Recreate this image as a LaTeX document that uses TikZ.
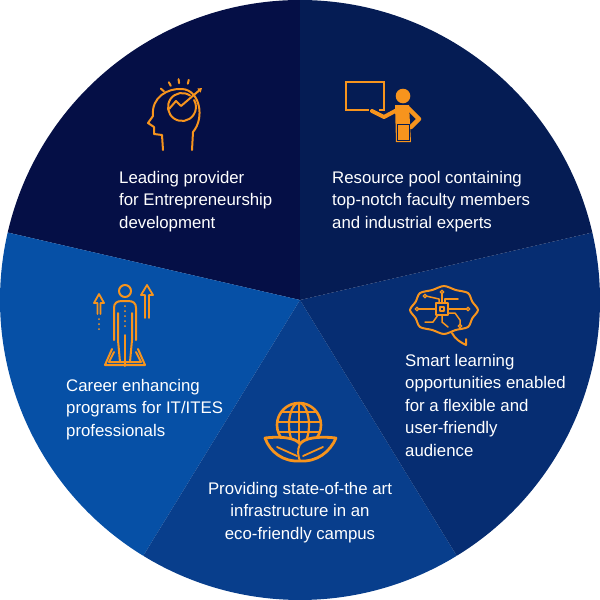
\documentclass[tikz,border=0pt]{standalone}
\usepackage{fontspec}
\setmainfont{Liberation Sans}
\usetikzlibrary{arrows.meta}
\definecolor{seg_tl}{RGB}{5, 15, 70}
\definecolor{seg_tr}{RGB}{5, 28, 84}
\definecolor{seg_r}{RGB}{6, 45, 114}
\definecolor{seg_b}{RGB}{8, 62, 140}
\definecolor{seg_l}{RGB}{6, 80, 166}
\definecolor{ic_orange}{RGB}{247, 148, 29}
\tikzstyle{txt}=[text=white,inner sep=0pt,font=\fontsize{16.8}{22.5}\selectfont]
\tikzstyle{ic}=[draw=ic_orange,line width=2pt,line join=round,line cap=round]
\tikzstyle{dot}=[fill=ic_orange,draw=none]

\begin{document}
\begin{tikzpicture}[x=1pt,y=-1pt]
        \useasboundingbox (0,0) rectangle (600,600);
        \coordinate (c) at (300,300);
        % slices
        \fill[seg_tl] (c) -- +(-90:300) arc[start angle=-90,end angle=-167,radius=300] -- cycle;
        \fill[seg_l] (c) -- +(-167:300) arc[start angle=-167,end angle=-238.5,radius=300] -- cycle;
        \fill[seg_b] (c) -- +(-238.5:300) arc[start angle=-238.5,end angle=-301.5,radius=300] -- cycle;
        \fill[seg_r] (c) -- +(-301.5:300) arc[start angle=-301.5,end angle=-373,radius=300] -- cycle;
        \fill[seg_tr] (c) -- +(-373:300) arc[start angle=-373,end angle=-450,radius=300] -- cycle;
        % texts (base = last line)
        \node[txt,anchor=base west,align=left] (lead) at (119,228) {Leading provider\\for Entrepreneurship\\development};
        \node[txt,anchor=base west,align=left] (pool) at (332,228) {Resource pool containing\\top-notch faculty members\\and industrial experts};
        \node[txt,anchor=base west,align=left] (smart) at (405,456) {Smart learning\\opportunities enabled\\for a flexible and\\user-friendly\\audience};
        \node[txt,anchor=base west,align=left] (career) at (66,436) {Career enhancing\\programs for IT/ITES\\professionals};
        \node[txt,anchor=base,align=center] (infra) at (300,539) {Providing state-of-the art\\infrastructure in an\\eco-friendly campus};
        % head icon
        \coordinate (gauge) at (182,107);
        \draw[ic] (163,150) -- (162,135) -- (154,134) -- (154,127) -- (148,123) -- (153,116)
          .. controls (151,97) and (168,88) .. (182,89)
          .. controls (200,90) and (205,118) .. (193,132) -- (192,150);
        \draw[ic] (gauge) ++(-55:14) arc[start angle=-55,end angle=-390,radius=14];
        \draw[ic,-{Triangle[length=4pt,width=5pt]}] (169,109) -- (176,101) -- (181,106) -- (202,88);
        \foreach \a in {76,97,118,139}
          \draw[ic] (gauge) ++(-\a:24) -- ++(-\a:4);
        % teacher icon
        \draw[ic,line width=2.7pt,line cap=butt,line join=miter] (369,110) -- (346,110) -- (346,82) -- (384,82) -- (384,110) -- (379,110);
        \fill[dot] (403,96) circle[radius=7.3];
        \fill[dot] (395,105) -- (409,105) -- (411,142) -- (396,142) -- cycle;
        \draw[ic,line width=4.5pt] (408,108) -- (419,119) -- (411,127);
        \draw[ic,line width=4pt] (397,110) -- (384,117) -- (372,111);
        \draw[seg_tr,line width=1pt] (397,124) rectangle (409,140);
        % brain icon
        \draw[ic] plot[smooth cycle] coordinates {(478,310) (472.3,301.7) (468,293) (455.7,290) (444,286) (432.3,290) (420,293) (415.7,301.7)
          (410,310) (415.7,318.3) (420,327) (432.3,330) (444,334) (455.7,330) (468,327) (472.3,318.3)};
        \draw[ic] (452,333) .. controls (455,339) and (460,342) .. (466,345) -- (466,339);
        \draw[ic,line width=1.6pt] (436,303) rectangle (448,315);
        \draw[ic,line width=1.3pt] (440,307) rectangle (444,311);
        \draw[ic,line width=1.5pt] (436,309) -- (418,309);
        \draw[ic,line width=1.5pt] (439,303) -- (439,299) -- (426,296);
        \draw[ic,line width=1.5pt] (442,303) -- (442,293);
        \draw[ic,line width=1.5pt] (445,303) -- (445,299) -- (458,299);
        \draw[ic,line width=1.5pt] (448,309) -- (467,309);
        \draw[ic,line width=1.5pt] (448,313) -- (455,313) -- (460,320) -- (460,325);
        \draw[ic,line width=1.5pt] (442,315) -- (442,322) -- (448,327);
        \draw[ic,line width=1.5pt] (438,315) -- (433,322) -- (425,322);
        \foreach \p in {(417,309),(425,296),(442,292),(468,309),(460,326)}
          \draw[ic,line width=1.3pt] \p circle[radius=1.8];
        % career icon
        \draw[ic] (125,291) circle[radius=6];
        \draw[ic] (114,340) -- (114,308) .. controls (114,303) and (117,301) .. (122,301) -- (128,301)
          .. controls (133,301) and (136,303) .. (136,308) -- (136,340);
        \draw[ic] (118,313) -- (118,340) -- (120,362);
        \draw[ic] (132,313) -- (132,340) -- (130,362);
        \draw[ic,dash pattern=on 0pt off 5pt] (125,306) -- (125,330);
        \draw[ic] (125,335) -- (125,366);
        \draw[ic] (112,349) -- (105,365) -- (145,365) -- (138,349);
        \draw[ic] (114,352) -- (109,362) -- (141,362) -- (136,352);
        \draw[ic,line width=1.8pt] (97.5,314) -- (97.5,303) -- (94,303) -- (99,294) -- (104,303) -- (100.5,303) -- (100.5,314);
        \draw[ic,dash pattern=on 0pt off 5pt] (99,319) -- (99,331);
        \draw[ic,line width=1.8pt] (145,318) -- (145,295) -- (141,295) -- (147,285) -- (153,295) -- (149,295) -- (149,318);
        % globe icon
        \draw[ic,line width=2.6pt] (299,425) circle[radius=22];
        \begin{scope}
          \clip (299,425) circle[radius=22];
          \draw[ic,line width=2.2pt] (299,400) -- (299,450);
          \draw[ic,line width=2.2pt] (299,425) ellipse[x radius=10,y radius=22];
          \foreach \y in {412,422,432}
            \draw[ic,line width=2.2pt] (270,\y) -- (330,\y);
        \end{scope}
        \filldraw[ic,fill=seg_b,line width=2.8pt] (300,461) .. controls (283,462) and (270,452) .. (265,438)
          .. controls (282,436) and (296,438) .. (300,444)
          .. controls (304,438) and (318,436) .. (336,438)
          .. controls (330,452) and (317,462) .. (300,461) -- cycle;
        \draw[ic,line width=2pt] (300,444) .. controls (297,450) and (298,456) .. (300,461);
        \draw[ic,line width=1.8pt] (277,447) -- (297,456);
        \draw[ic,line width=1.8pt] (323,447) -- (303,456);
    \end{tikzpicture}
\end{document}
